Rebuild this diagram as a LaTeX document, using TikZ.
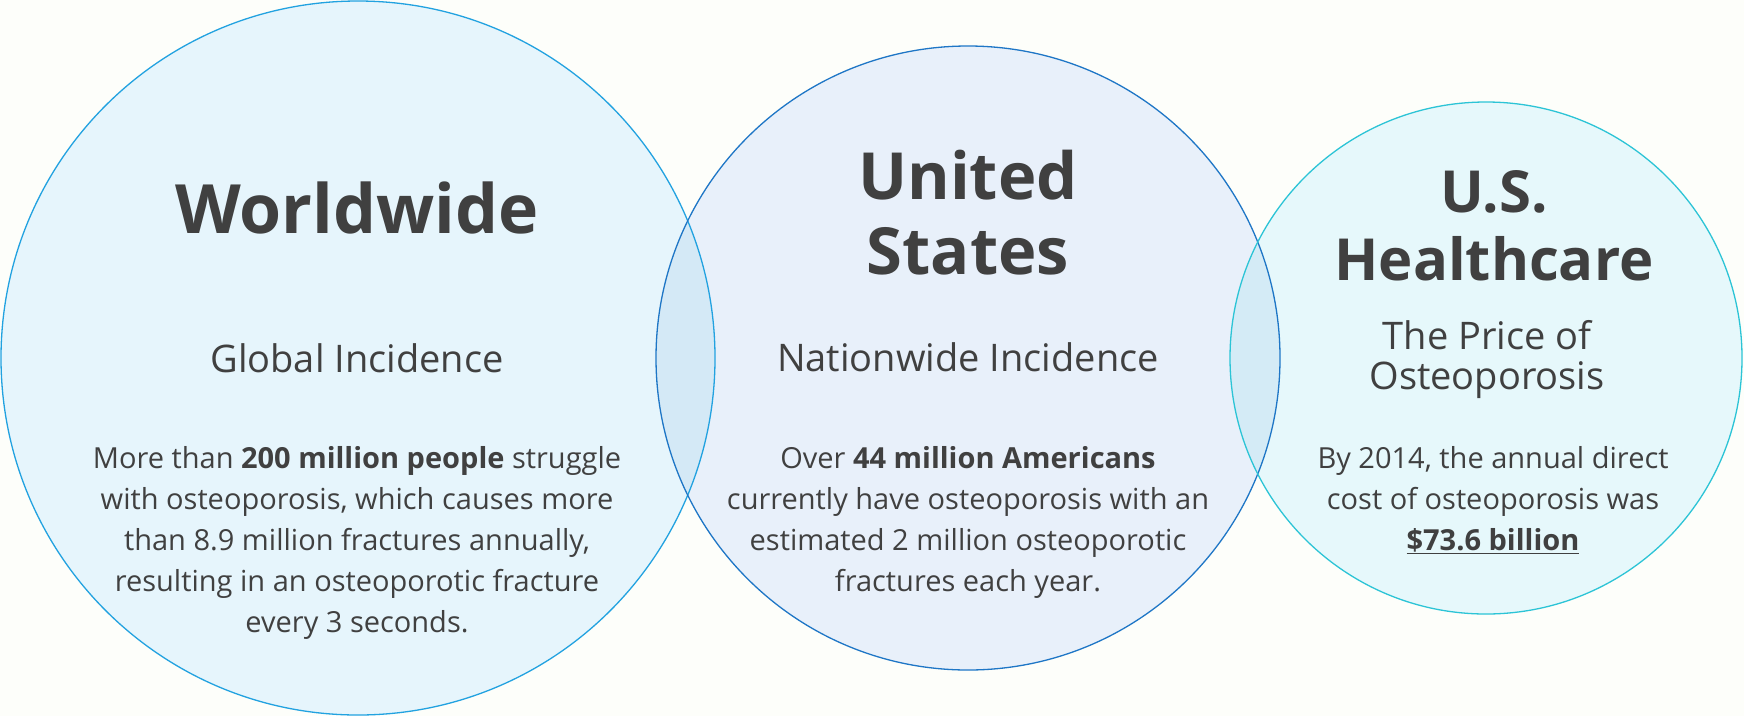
\documentclass[tikz,border=0pt]{standalone}
\usepackage{fontspec}
\setmainfont{Open Sans}
\definecolor{paper}{HTML}{FDFEFA}
\definecolor{worldblue}{HTML}{22A2E0}
\definecolor{nationblue}{HTML}{1E76C6}
\definecolor{costcyan}{HTML}{2CC4D6}
\definecolor{worldfill}{HTML}{E6F5FC}
\definecolor{nationfill}{HTML}{E8F0FA}
\definecolor{costfill}{HTML}{E6F8FB}
\definecolor{leftlens}{HTML}{D4E9F6}
\definecolor{rightlens}{HTML}{D4EBF6}
\definecolor{ink}{HTML}{404040}
\tikzset{
    venn/.style = {
        circle,
        fill = #1,
        inner sep = 0pt,
        },
    ring/.style = {
        draw = #1,
        line width = 1.3pt,
        },
    heading/.style = {
        anchor = base,
        align = center,
        text = ink,
        font = \fontsize{68}{75}\selectfont\bfseries,
        },
    subheading/.style = {
        anchor = base,
        align = center,
        text = ink,
        font = \fontsize{38}{40}\selectfont,
        },
    blurb/.style = {
        anchor = base,
        align = center,
        text = ink,
        font = \fontsize{29}{41}\selectfont,
        },
}

\begin{document}
\begin{tikzpicture}[x=1pt, y=-1pt]
    \fill[paper] (0,0) rectangle (1744,716);
    \useasboundingbox (0,0) rectangle (1744,716);

    % the three circles
    \node[venn=worldfill, minimum size=714pt] (world) at (358,358) {};
    \node[venn=nationfill, minimum size=624pt] (nation) at (968,358) {};
    \node[venn=costfill, minimum size=512pt] (cost) at (1486,358) {};

    % where they overlap
    \begin{scope}
        \clip (world.center) circle[radius=357pt];
        \fill[leftlens] (nation.center) circle[radius=312pt];
    \end{scope}
    \begin{scope}
        \clip (nation.center) circle[radius=312pt];
        \fill[rightlens] (cost.center) circle[radius=256pt];
    \end{scope}

    \draw[ring=worldblue] (world.center) circle[radius=357pt];
    \draw[ring=nationblue] (nation.center) circle[radius=312pt];
    \draw[ring=costcyan] (cost.center) circle[radius=256pt];

    % worldwide
    \node[heading] (worldTitle) at (357,233) {Worldwide};
    \node[subheading] (worldSub) at (357,372) {Global Incidence};
    \node[blurb] (worldText) at (357,632) {More than \textbf{200 million people} struggle\\
        with osteoporosis, which causes more\\
        than 8.9 million fractures annually,\\
        resulting in an osteoporotic fracture\\
        every 3 seconds.};

    % united states
    \node[heading, font=\fontsize{65}{75}\selectfont\bfseries] (nationTitle) at (968,274) {United\\States};
    \node[subheading] (nationSub) at (968,371) {Nationwide Incidence};
    \node[blurb] (nationText) at (968,591) {Over \textbf{44 million Americans}\\
        currently have osteoporosis with an\\
        estimated 2 million osteoporotic\\
        fractures each year.};

    % healthcare cost
    \node[heading, font=\fontsize{58}{68}\selectfont\bfseries] (costTitle) at (1494,280) {U.S.\\Healthcare};
    \node[subheading] (costSub) at (1487,389) {The Price of\\Osteoporosis};
    \node[blurb] (costText) at (1493,550) {By 2014, the annual direct\\
        cost of osteoporosis was\\
        \underline{\textbf{\$73.6 billion}}};
\end{tikzpicture}
\end{document}
